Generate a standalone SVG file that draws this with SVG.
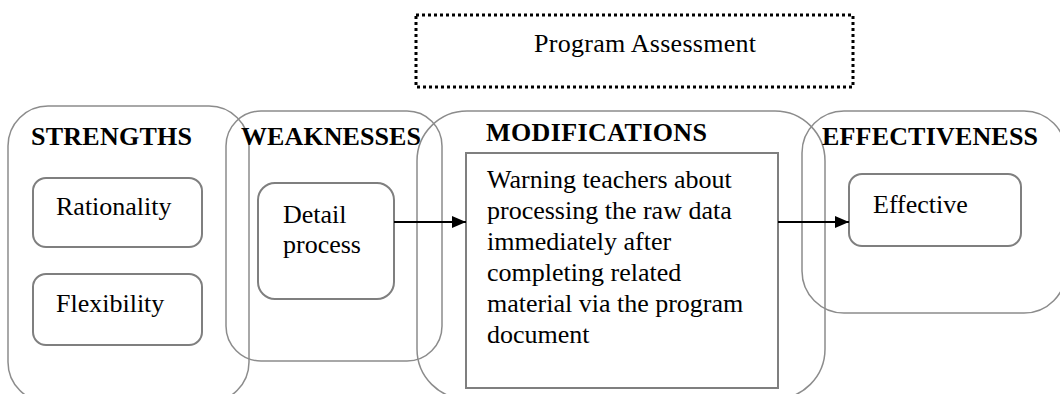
<svg xmlns="http://www.w3.org/2000/svg" width="1060" height="394" viewBox="0 0 1060 394">
  <style>
    .group { fill: none; stroke: #8c8c8c; stroke-width: 1.5; }
    .item { fill: #ffffff; stroke: #7f7f7f; stroke-width: 2; }
    .head { font-family: "Liberation Serif", "Times New Roman", serif; font-weight: bold; font-size: 26px; fill: #000; }
    .txt { font-family: "Liberation Serif", "Times New Roman", serif; font-size: 26px; fill: #000; }
    .conn { stroke: #000; stroke-width: 2; fill: none; }
  </style>
  <defs>
    <marker id="arrow" viewBox="0 0 14 12" refX="14" refY="6" markerWidth="14" markerHeight="12" markerUnits="userSpaceOnUse" orient="auto">
      <path d="M0,0 L14,6 L0,12 Z" fill="#000"/>
    </marker>
  </defs>

  <rect width="1060" height="394" fill="#ffffff"/>

  <!-- Title -->
  <g id="program-assessment">
    <rect x="416" y="15" width="437" height="72" fill="none" stroke="#000" stroke-width="3" stroke-dasharray="3 3"/>
    <text class="txt" x="534" y="52" textLength="222">Program Assessment</text>
  </g>

  <!-- Column groups -->
  <g id="strengths">
    <rect class="group" x="8" y="106" width="241" height="296" rx="40"/>
    <text class="head" x="31" y="145" textLength="161">STRENGTHS</text>
  </g>
  <g id="weaknesses">
    <rect class="group" x="226" y="111" width="216" height="250" rx="35"/>
    <text class="head" x="241" y="145" textLength="180">WEAKNESSES</text>
  </g>
  <g id="modifications">
    <rect class="group" x="417" y="111" width="408" height="288" rx="50"/>
    <text class="head" x="486" y="141" textLength="221">MODIFICATIONS</text>
  </g>
  <g id="effectiveness">
    <rect class="group" x="802" y="111" width="264" height="202" rx="42"/>
    <text class="head" x="822" y="145" textLength="216">EFFECTIVENESS</text>
  </g>

  <!-- Items -->
  <g id="rationality">
    <rect class="item" x="33" y="178" width="169" height="69" rx="13"/>
    <text class="txt" x="56" y="215">Rationality</text>
  </g>
  <g id="flexibility">
    <rect class="item" x="33" y="274" width="169" height="71" rx="13"/>
    <text class="txt" x="56" y="312">Flexibility</text>
  </g>
  <g id="detail-process">
    <rect class="item" x="258" y="183" width="136" height="116" rx="17"/>
    <text class="txt" x="283" y="223">Detail</text>
    <text class="txt" x="283" y="253">process</text>
  </g>
  <g id="warning-teachers">
    <rect class="item" x="466" y="153" width="312" height="235" stroke="#888888"/>
    <text class="txt" x="487" y="188">Warning teachers about</text>
    <text class="txt" x="487" y="219">processing the raw data</text>
    <text class="txt" x="487" y="250">immediately after</text>
    <text class="txt" x="487" y="281">completing related</text>
    <text class="txt" x="487" y="312">material via the program</text>
    <text class="txt" x="487" y="343">document</text>
  </g>
  <g id="effective">
    <rect class="item" x="849" y="174" width="172" height="72" rx="13"/>
    <text class="txt" x="873" y="213">Effective</text>
  </g>

  <!-- Connectors -->
  <g id="connectors">
    <line class="conn" x1="394" y1="222" x2="466" y2="222" marker-end="url(#arrow)"/>
    <line class="conn" x1="778" y1="222" x2="849" y2="222" marker-end="url(#arrow)"/>
  </g>
</svg>
